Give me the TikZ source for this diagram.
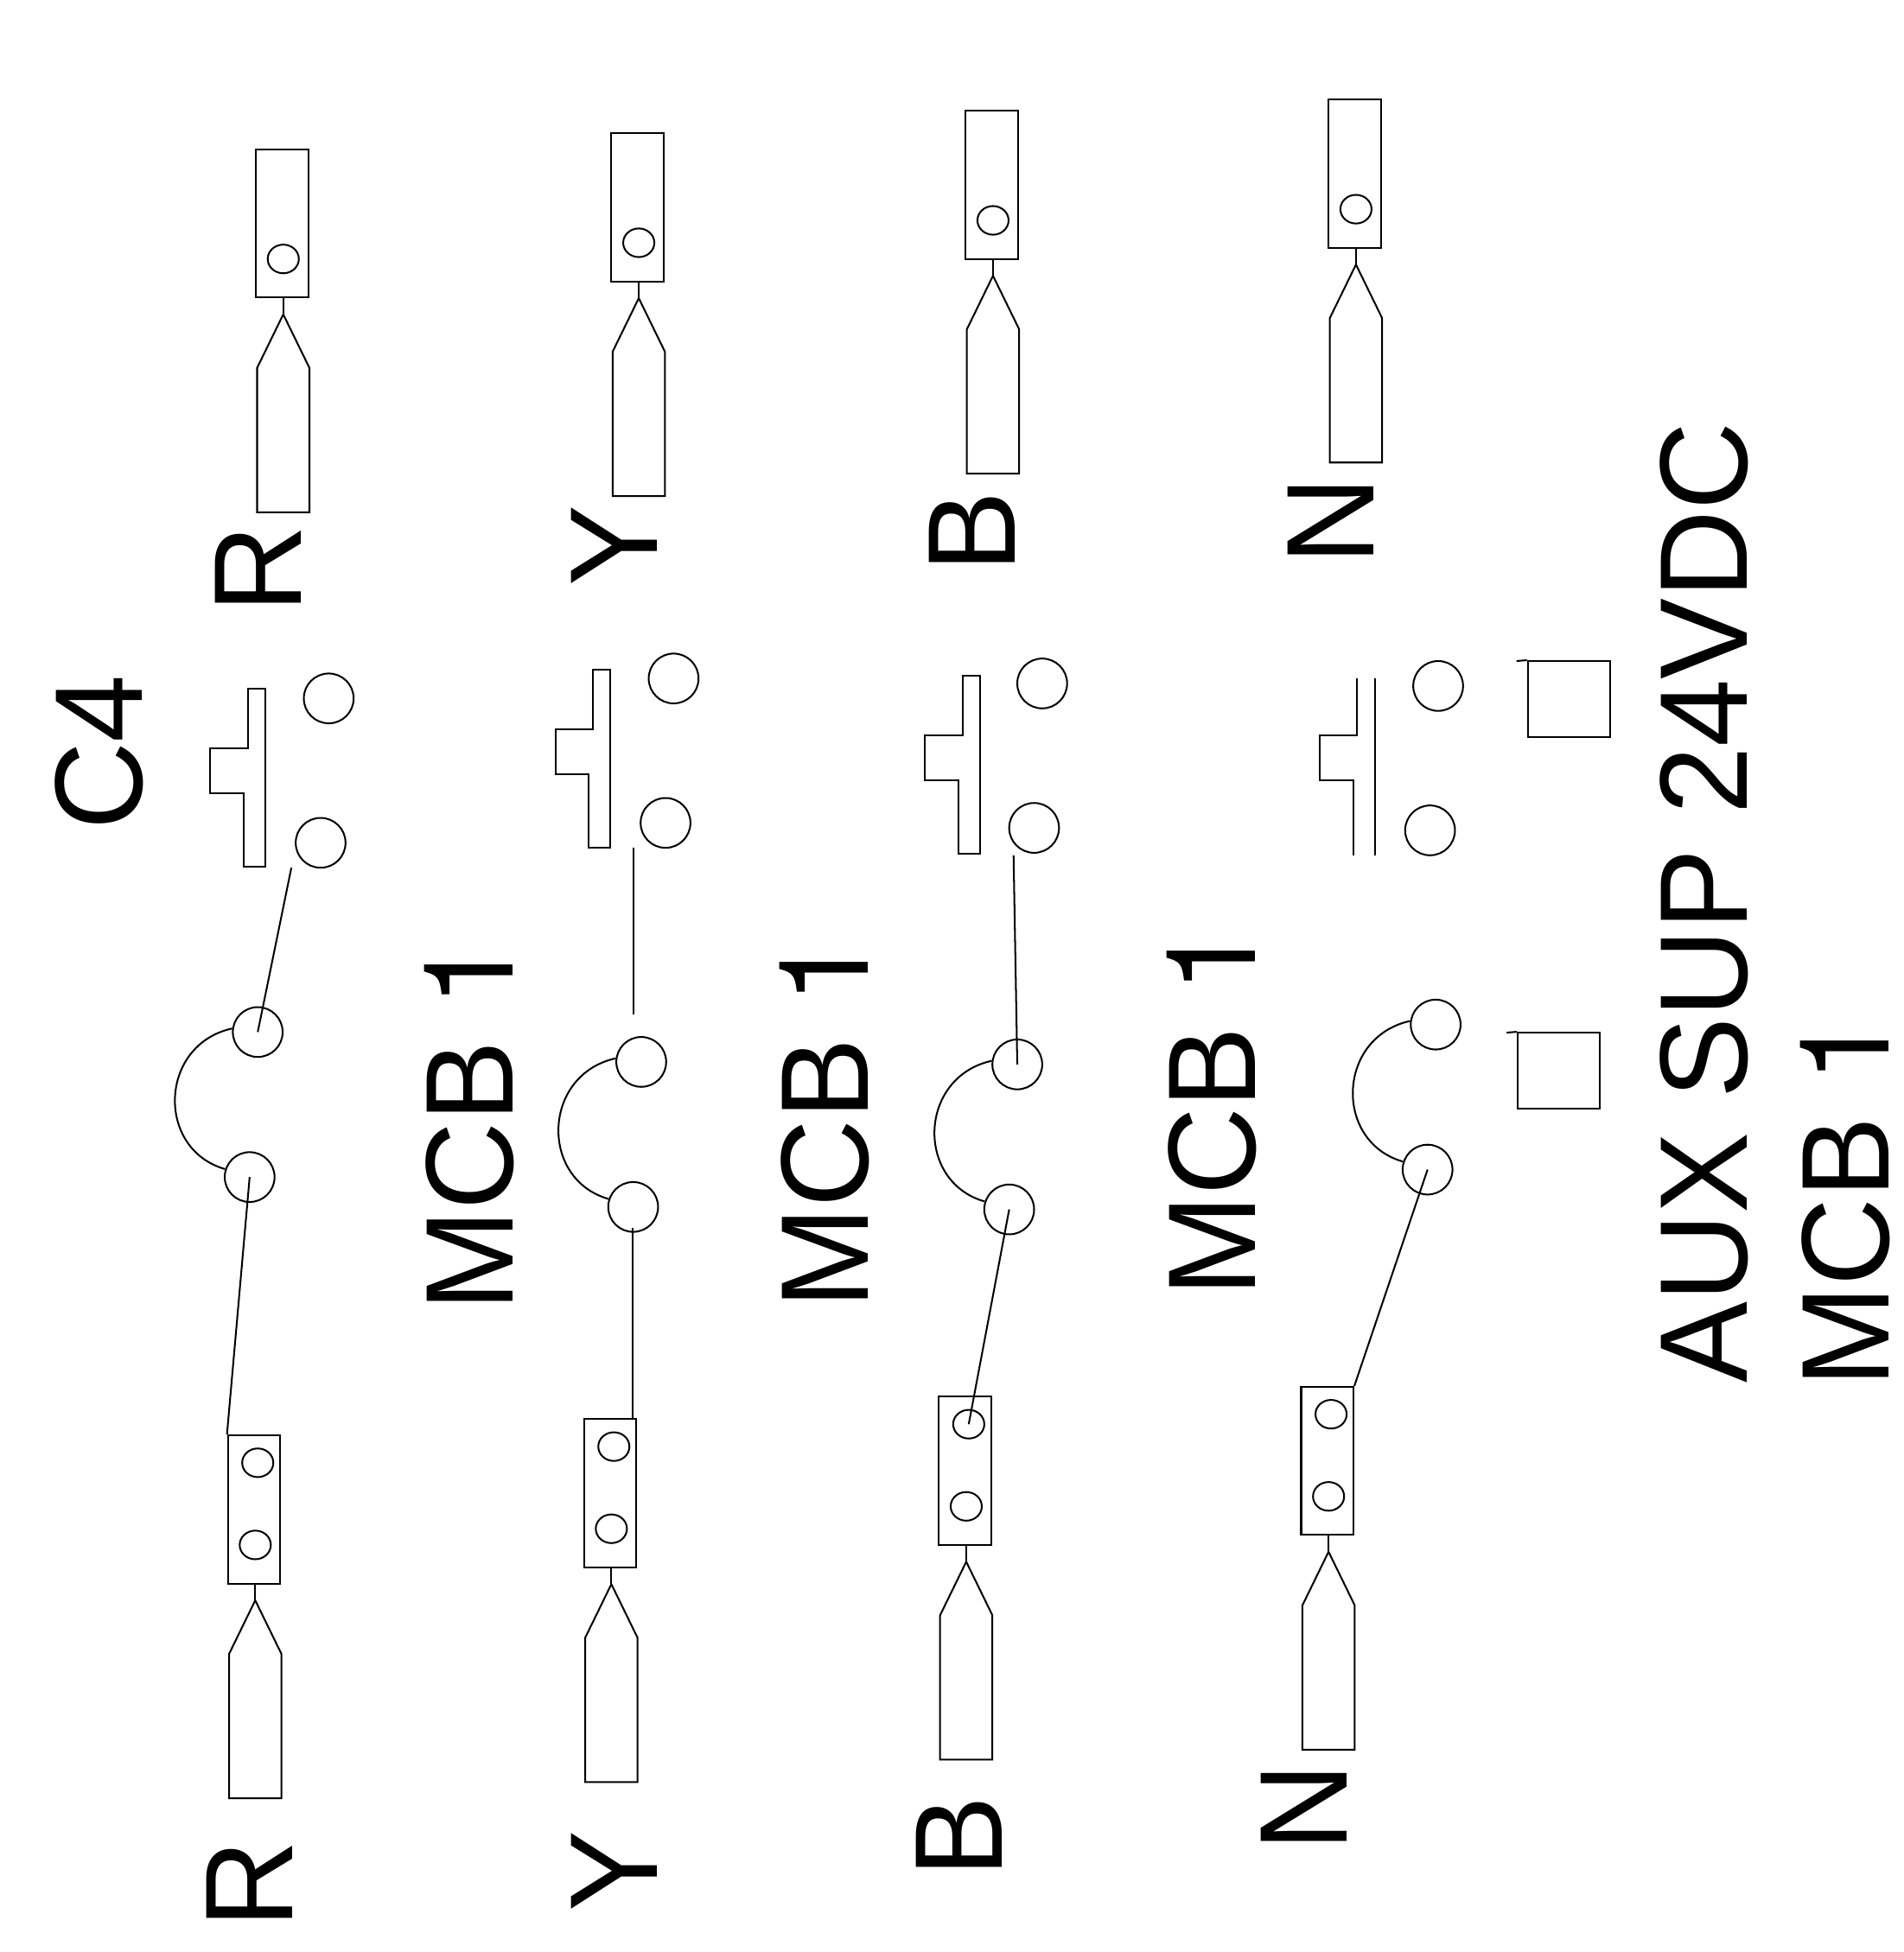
\documentclass[tikz,border=0pt]{standalone}
\usepackage{fontspec}
\usetikzlibrary{shapes.geometric}
\setmainfont[FakeStretch=0.975]{Liberation Sans}
\newfontfamily\onefont[FakeStretch=0.975]{TeX Gyre Heros}
\tikzset{
    wire/.style={line width=0.4pt},
    termbox/.style={draw, wire, inner sep=0, minimum width=0.42cm, minimum height=1.19cm},
    stud/.style={draw, wire, circle, inner sep=0, minimum size=0.4cm},
    screw/.style={draw, wire, ellipse, inner sep=0, minimum width=0.25cm, minimum height=0.23cm},
    auxbox/.style={draw, wire, inner sep=0, minimum width=0.66cm, minimum height=0.61cm},
    lbl/.style={rotate=90, anchor=base, inner sep=0, font=\fontsize{28.5}{34}\selectfont}
}
\begin{document}
\begin{tikzpicture}[x=0.01cm, y=-0.01cm, wire]
        \useasboundingbox (0,0) rectangle (1529,1568);
        \foreach \n/\x/\y in {tr/226.5/179.5, ty/512/166.5, tb/796.5/148.5, tn/1088/139.5, br/204/1212.5, by/490/1199.5, bb/775/1181.5, bn/1066/1173.5} {
            \node[termbox] (box\n) at (\x,\y) {};
            \node[screw] (low\n) at (\x+1,\y+28.5) {};
            \coordinate (tip\n) at (\x+1,\y+73);
            \draw (box\n.south -| tip\n) -- (tip\n);
            \draw (tip\n) -- ++(21,43) -- ++(0,116) -- ++(-42,0) -- ++(0,-116) -- cycle;
        }
        \foreach \n in {br,by,bb,bn} {
            \path (low\n) ++(2,-66) node[screw] (upp\n) {};
        }
        \foreach \n/\ax/\ay/\cx/\cy in {1/264/561/207/829, 2/541/545/515/853, 3/837/549/817/855, 4/1155/551/1153/823} {
            \node[stud] (a\n) at (\ax,\ay) {};
            \node[stud] (b\n) at (\ax-6.5,\ay+116) {};
            \node[stud] (c\n) at (\cx,\cy) {};
            \node[stud] (d\n) at (\cx-6.5,\cy+116.5) {};
            \draw (c\n.172) .. controls +(-59,13) and +(-56,-16) .. (d\n.162);
        }
        \foreach \n/\x/\y in {1/264/561, 2/541/546, 3/838/550.5} {
            \draw (\x-65,\y-8) -- ++(14,0) -- ++(0,143) -- ++(-17,0) -- ++(0,-59) -- ++(-27,0) -- ++(0,-36) -- ++(30,0) -- cycle;
        }
        \draw (1090,545) -- (1090,591) -- (1060,591) -- (1060,627) -- (1087,627) -- (1087,687);
        \draw (1104,545) -- (1104,687);
        \coordinate (w1) at (234,697);
        \coordinate (w2a) at (509,681);
        \coordinate (w2b) at (509,815);
        \coordinate (w2c) at (508,986);
        \coordinate (w2d) at (508,1140);
        \coordinate (w3) at (814,687);
        \draw (w1) -- (c1.center);
        \draw (d1.center) -- (boxbr.north west);
        \draw (w2a) -- (w2b);
        \draw (w2c) -- (w2d);
        \draw (w3) -- (c3.center);
        \draw (d3.center) -- (uppbb.center);
        \draw (d4.center) -- (boxbn.north east);
        \node[auxbox] (aux1) at (1260,561.5) {};
        \node[auxbox] (aux2) at (1252,860) {};
        \coordinate (t1) at (1218,531);
        \coordinate (t2) at (1210,829.5);
        \draw (t1) -- (aux1.north west);
        \draw (t2) -- (aux2.north west);
        \foreach \x/\y/\t in {242/457/R, 528/438.5/Y, 815/427.5/B, 1103/418/N, 235/1513.5/R, 528/1503/Y, 805/1475.5/B, 1082/1451.5/N, 114/604.5/C4, 412/904/MCB {\onefont 1}, 697/902/MCB {\onefont 1}, 1008/892.5/MCB {\onefont 1}, 1403/725/AUX SUP 24VDC, 1517/965/MCB {\onefont 1}} {
            \node[lbl] at (\x,\y) {\t};
        }
    \end{tikzpicture}
\end{document}
